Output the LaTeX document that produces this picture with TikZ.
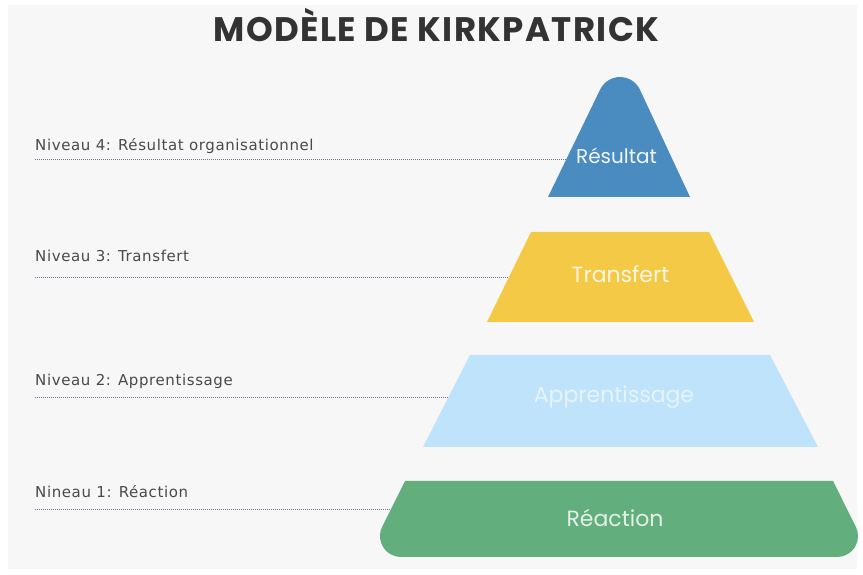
\documentclass[tikz,border=0pt]{standalone}
\usepackage{fontspec}
\setmainfont{DejaVu Sans}
\newfontfamily\labelfont{DejaVu Sans}[LetterSpace=4]
\newfontfamily\titlefont{Poppins}[LetterSpace=4]
\newfontfamily\shapefont{Poppins}
\usetikzlibrary{calc}

\definecolor{panelgray}{HTML}{F7F7F7}
\definecolor{titlegray}{HTML}{333333}
\definecolor{labelgray}{HTML}{4A4A4A}
\definecolor{dotcol}{HTML}{6F7290}
\definecolor{lvlblue}{HTML}{4A8BC0}
\definecolor{lvlyellow}{HTML}{F4C946}
\definecolor{lvllight}{HTML}{BEE3FA}
\definecolor{lvlgreen}{HTML}{63AE7D}

\tikzset{
  levellabel/.style={anchor=base west, inner sep=0pt, text=labelgray,
    font=\labelfont\fontsize{15}{17}\selectfont},
  leveltext/.style={anchor=base, inner sep=0pt,
    font=\shapefont\fontsize{22}{24}\selectfont},
  dotline/.style={draw=dotcol, line width=0.9pt, dash pattern=on 1pt off 1pt}
}

\begin{document}
\begin{tikzpicture}[x=1pt, y=1pt]
  \useasboundingbox (0,0) rectangle (863,575);
  \fill[white] (0,0) rectangle (863,575);
  \fill[panelgray] (8,6) rectangle (857,570);

  % title
  \node[anchor=base, inner sep=0pt, text=titlegray,
        font=\titlefont\bfseries\fontsize{34}{36}\selectfont]
        (title) at (436.5,533) {MODÈLE DE KIRKPATRICK};

  % level labels on the left
  \node[levellabel] (lab4) at (35,424) {Niveau 4: Résultat organisationnel};
  \node[levellabel] (lab3) at (35,313) {Niveau 3: Transfert};
  \node[levellabel] (lab2) at (35,189) {Niveau 2: Apprentissage};
  \node[levellabel] (lab1) at (35,77)  {Nineau 1: Réaction};

  % start and end points of the dotted leaders
  \coordinate (s4) at (35,416);  \coordinate (e4) at (567,416);
  \coordinate (s3) at (35,298);  \coordinate (e3) at (509,298);
  \coordinate (s2) at (35,178);  \coordinate (e2) at (448.5,178);
  \coordinate (s1) at (35,66);   \coordinate (e1) at (391,66);

  \draw[dotline] (s4) -- (e4);
  \draw[dotline] (s3) -- (e3);
  \draw[dotline] (s2) -- (e2);
  \draw[dotline] (s1) -- (e1);

  % pyramid levels
  \fill[lvlblue] (548,378) -- ($(620,476)+(154.4:22)$)
       arc[start angle=154.4, end angle=25.6, radius=22] -- (690,378) -- cycle;
  \fill[lvlyellow] (487,253) -- (531,343) -- (709,343) -- (754,253) -- cycle;
  \fill[lvllight] (423,128) -- (470,220) -- (770,220) -- (818,128) -- cycle;
  \fill[lvlgreen] (405,94) -- ($(401,39)+(153.4:21)$)
       arc[start angle=153.4, end angle=270, radius=21] -- (837,18)
       arc[start angle=-90, end angle=26.6, radius=21] -- (833,94) -- cycle;

  % level names
  \node[leveltext, text=white!92!lvlblue,
        font=\shapefont\fontsize{20}{22}\selectfont] (res) at (616.5,411) {Résultat};
  \node[leveltext, text=white!85!lvlyellow] (tra) at (620.5,292) {Transfert};
  \node[leveltext, text=white!60!lvllight] (app) at (614,172) {Apprentissage};
  \node[leveltext, text=white!82!lvlgreen] (rea) at (615,48) {Réaction};
\end{tikzpicture}
\end{document}
